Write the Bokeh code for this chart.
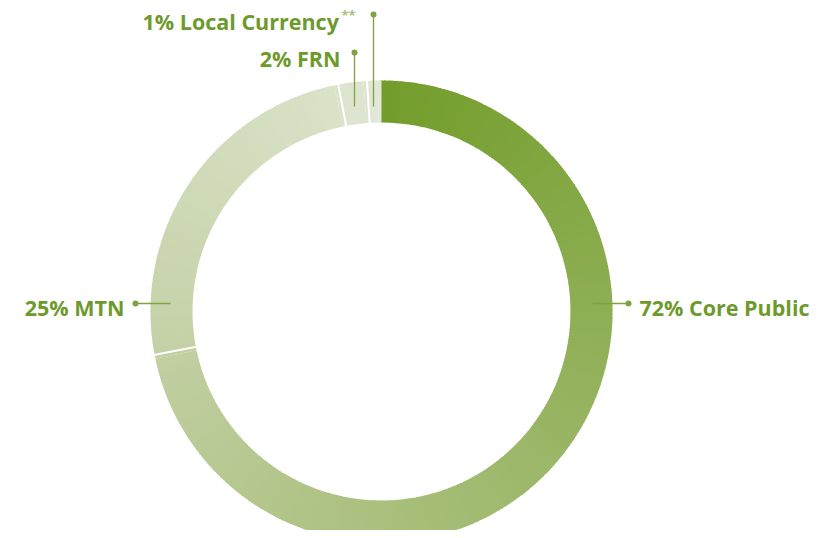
import numpy as np
from bokeh.plotting import figure
from bokeh.models import Range1d, ColumnDataSource
from bokeh.core.properties import value
from bokeh.embed import file_html
from bokeh.resources import INLINE

# ---- data ----
categories = ["Core Public", "MTN", "FRN", "Local Currency"]
shares = [72, 25, 2, 1]
labels = ["72% Core Public", "25% MTN", "2% FRN", "1% Local Currency"]
footnote = "**"

# ---- style ----
seg_colors = [("#729d2a", "#c2cfa2"), ("#c4d1a6", "#dae2c8"),
              ("#dde4cf", "#dde4cf"), ("#e1e7d6", "#e1e7d6")]
TXT = "#6e9a2d"
LINE = "#7ea33f"

W, H = 815, 530
def sy(y):  # picture y -> data y
    return H - y

p = figure(width=W, height=H, output_backend="svg", toolbar_location=None,
           x_range=Range1d(0, W), y_range=Range1d(0, H),
           min_border=0, outline_line_color=None)
p.axis.visible = False
p.grid.visible = False
p.background_fill_color = "white"
p.border_fill_color = "white"

cx, cy = 381, sy(311)
r_in, r_out = 189, 231

def hex2rgb(h):
    return np.array([int(h[i:i+2], 16) for i in (1, 3, 5)], dtype=float)
def rgb2hex(c):
    return "#%02x%02x%02x" % tuple(int(round(v)) for v in c)

total = float(sum(shares))
cum = np.concatenate([[0], np.cumsum(shares)]) / total * 360.0  # clockwise from top

xs_s, ys_s, ws_s, we_s, cols = [], [], [], [], []
for i, v in enumerate(shares):
    t1, t2 = cum[i], cum[i + 1]
    n = max(2, int(np.ceil(t2 - t1)))
    edges = np.linspace(t1, t2, n + 1)
    c0, c1 = hex2rgb(seg_colors[i][0]), hex2rgb(seg_colors[i][1])
    for k in range(n):
        f = (k + 0.5) / n
        a, b = edges[k], edges[k + 1]
        xs_s.append(cx); ys_s.append(cy)
        ws_s.append(np.radians(90 - b))
        we_s.append(np.radians(90 - a + (0.3 if k < n - 1 else 0)))
        cols.append(rgb2hex(c0 + (c1 - c0) * f))

src = ColumnDataSource(dict(x=xs_s, y=ys_s, s=ws_s, e=we_s, c=cols))
p.annular_wedge(x="x", y="y", inner_radius=r_in, outer_radius=r_out,
                start_angle="s", end_angle="e", fill_color="c", line_color=None,
                source=src)

# white separators between slices
sep_x0, sep_y0, sep_x1, sep_y1 = [], [], [], []
for t in cum[1:-1]:
    a = np.radians(90 - t)
    sep_x0.append(cx + (r_in - 2) * np.cos(a)); sep_y0.append(cy + (r_in - 2) * np.sin(a))
    sep_x1.append(cx + (r_out + 2) * np.cos(a)); sep_y1.append(cy + (r_out + 2) * np.sin(a))
p.segment(sep_x0, sep_y0, sep_x1, sep_y1, line_color="white", line_width=2)

# ---- leader lines ----
leaders = [(592, 303, 628, 303), (170, 303, 135, 303), (354, 106, 354, 52), (373, 106, 373, 14)]
p.segment([l[0] for l in leaders], [sy(l[1]) for l in leaders],
          [l[2] for l in leaders], [sy(l[3]) for l in leaders],
          line_color=LINE, line_width=1.3)
p.scatter([l[2] for l in leaders], [sy(l[3]) for l in leaders], size=6,
          fill_color=LINE, line_color=None)

# ---- labels ----
lab_pos = [(639, 307, "left"), (124, 307, "right"), (340, 58, "right"), (142, 21, "left")]
for (x, y, al), t in zip(lab_pos, labels):
    p.text(x=[x], y=[sy(y)], text=[t], text_align=al, text_baseline="middle",
           text_color=TXT, text_font=value("Open Sans"), text_font_style="bold",
           text_font_size="21.5px")
p.text(x=[341], y=[sy(14)], text=[footnote], text_align="left", text_baseline="middle",
       text_color="#a9c27c", text_font=value("Open Sans"), text_font_style="bold",
       text_font_size="13px")

open("out.html", "w").write(file_html(p, INLINE))
